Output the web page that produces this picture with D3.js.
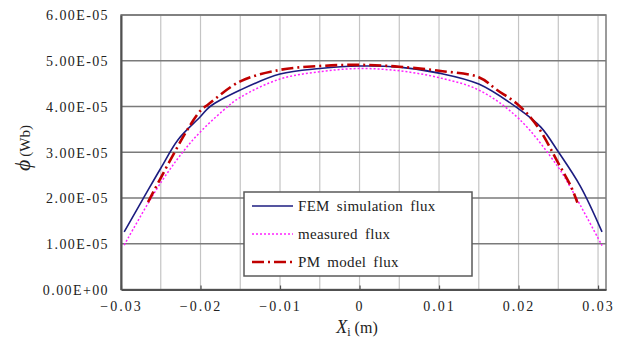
<!DOCTYPE html>
<html>
<head>
<meta charset="utf-8">
<script src="https://cdn.jsdelivr.net/npm/d3@7"></script>
<style>
	body { margin: 0; background: #fff; }
	text { font-family: "Liberation Serif", "DejaVu Serif", serif; fill: #222; }
</style>
</head>
<body>
<div id="chart"></div>
<script>
//data (x in m, flux in Wb)
var femX = [-0.0296, -0.027, -0.025, -0.0228, -0.02, -0.0188, -0.015, -0.01, -0.005, 0, 0.005, 0.01, 0.015, 0.02, 0.0228, 0.025, 0.0278, 0.0305];
var femY = [1.26e-5, 2.05e-5, 2.65e-5, 3.28e-5, 3.78e-5, 4.00e-5, 4.36e-5, 4.71e-5, 4.83e-5, 4.885e-5, 4.86e-5, 4.73e-5, 4.49e-5, 3.95e-5, 3.55e-5, 3.01e-5, 2.25e-5, 1.26e-5];

var measX = [-0.0296, -0.0249, -0.0209, -0.0171, -0.015, -0.01, -0.005, 0, 0.005, 0.01, 0.015, 0.02, 0.025, 0.0266, 0.0305];
var measY = [0.97e-5, 2.36e-5, 3.28e-5, 3.92e-5, 4.20e-5, 4.60e-5, 4.76e-5, 4.83e-5, 4.78e-5, 4.63e-5, 4.36e-5, 3.74e-5, 2.67e-5, 2.21e-5, 0.96e-5];

var pmX = [-0.0266, -0.0218, -0.02, -0.019, -0.015, -0.01, -0.005, 0, 0.005, 0.01, 0.015, 0.0173, 0.02, 0.0224, 0.025, 0.0266, 0.0274];
var pmY = [1.91e-5, 3.45e-5, 3.91e-5, 4.05e-5, 4.55e-5, 4.80e-5, 4.885e-5, 4.91e-5, 4.87e-5, 4.78e-5, 4.64e-5, 4.36e-5, 4.03e-5, 3.56e-5, 2.76e-5, 2.25e-5, 1.90e-5];

var seriesNames = ["FEM simulation flux", "measured flux", "PM model flux"];

var yTicks = [0, 1e-5, 2e-5, 3e-5, 4e-5, 5e-5, 6e-5];
var yTickLabels = ["0.00E+00", "1.00E-05", "2.00E-05", "3.00E-05", "4.00E-05", "5.00E-05", "6.00E-05"];
var xTicks = [-0.03, -0.02, -0.01, 0, 0.01, 0.02, 0.03];
var xTickLabels = ["\u22120.03", "\u22120.02", "\u22120.01", "0", "0.01", "0.02", "0.03"];
var xGrid = [-0.025, -0.02, -0.015, -0.01, -0.005, 0, 0.005, 0.01, 0.015, 0.02, 0.025, 0.03];

var serif = "'Liberation Serif', 'DejaVu Serif', serif";

//size of svg and plot area
var svgWidth = 629;
var svgHeight = 340;

var margin = {
	top: 15,
	right: 23,
	bottom: 50.5,
	left: 121
};

var width = svgWidth - margin.left - margin.right;
var height = svgHeight - margin.top - margin.bottom;

var svg = d3.select("#chart")
	.append("svg")
	.attr("width", svgWidth)
	.attr("height", svgHeight)
	.attr("font-family", serif);

var chartGroup = svg.append("g")
	.attr("transform", `translate(${margin.left}, ${margin.top})`);

var xScale = d3.scaleLinear()
	.domain([-0.03, 0.031])
	.range([0, width]);

var yScale = d3.scaleLinear()
	.domain([0, 6e-5])
	.range([height, 0]);

//vertical light grid
chartGroup.selectAll(".vgrid")
	.data(xGrid)
	.enter()
	.append("line")
	.attr("x1", d => xScale(d))
	.attr("x2", d => xScale(d))
	.attr("y1", 0)
	.attr("y2", height)
	.attr("stroke", "#c4c4c4")
	.attr("stroke-width", 1.2);

//horizontal grid
chartGroup.selectAll(".hgrid")
	.data(yTicks.slice(1))
	.enter()
	.append("line")
	.attr("x1", 0)
	.attr("x2", width)
	.attr("y1", d => yScale(d))
	.attr("y2", d => yScale(d))
	.attr("stroke", "#7a7a7a")
	.attr("stroke-width", 1.5);

//plot border
chartGroup.append("rect")
	.attr("x", 0)
	.attr("y", 0)
	.attr("width", width)
	.attr("height", height)
	.attr("fill", "none")
	.attr("stroke", "#7a7a7a")
	.attr("stroke-width", 1.5);

//axes
var bottomAxis = d3.axisBottom(xScale)
	.tickValues(xTicks)
	.tickSizeInner(-4)
	.tickSizeOuter(0)
	.tickPadding(12)
	.tickFormat((d, i) => xTickLabels[i]);

var leftAxis = d3.axisLeft(yScale)
	.tickValues(yTicks)
	.tickSize(0)
	.tickPadding(12)
	.tickFormat((d, i) => yTickLabels[i]);

var xAxis = chartGroup.append("g")
	.attr("transform", `translate(0, ${height})`)
	.call(bottomAxis)
	.attr("font-family", serif);

var yAxis = chartGroup.append("g")
	.call(leftAxis)
	.attr("font-family", serif);

xAxis.select(".domain").attr("stroke", "#505050").attr("stroke-width", 2);
yAxis.select(".domain").attr("stroke", "#505050").attr("stroke-width", 2);
xAxis.selectAll(".tick line").attr("stroke", "#505050").attr("stroke-width", 1.2);

xAxis.selectAll("text")
	.style("font-size", "14px")
	.style("letter-spacing", "2px")
	.attr("fill", "#222");

yAxis.selectAll("text")
	.style("font-size", "14px")
	.style("letter-spacing", "1.4px")
	.attr("dy", "0.35em")
	.attr("fill", "#222");

//lines
var lineGen = d3.line()
	.x(d => xScale(d[0]))
	.y(d => yScale(d[1]))
	.curve(d3.curveCatmullRom.alpha(0.5));

var femData = femX.map((d, i) => [d, femY[i]]);
var measData = measX.map((d, i) => [d, measY[i]]);
var pmData = pmX.map((d, i) => [d, pmY[i]]);

var styles = [
	{color: "#1c1c80", width: 1.6, dash: null},
	{color: "#ff22ff", width: 1.5, dash: "2,2"},
	{color: "#c00000", width: 2.6, dash: "12,4,2,4"}
];

[femData, measData, pmData].forEach(function(data, i) {
	chartGroup.append("path")
		.datum(data)
		.attr("d", lineGen)
		.attr("fill", "none")
		.attr("stroke", styles[i].color)
		.attr("stroke-width", styles[i].width)
		.attr("stroke-dasharray", styles[i].dash);
});

//legend
var legend = svg.append("g")
	.attr("transform", "translate(244, 192)");

legend.append("rect")
	.attr("x", 0)
	.attr("y", 0)
	.attr("width", 228)
	.attr("height", 84)
	.attr("fill", "#fff")
	.attr("stroke", "#5a5a5a")
	.attr("stroke-width", 1.5);

seriesNames.forEach(function(name, i) {
	var ly = 14 + i * 28;
	legend.append("line")
		.attr("x1", 8)
		.attr("x2", 49)
		.attr("y1", ly)
		.attr("y2", ly)
		.attr("stroke", styles[i].color)
		.attr("stroke-width", styles[i].width)
		.attr("stroke-dasharray", styles[i].dash);
	legend.append("text")
		.attr("x", 54)
		.attr("y", ly)
		.attr("dy", "0.35em")
		.style("font-size", "15px")
		.style("letter-spacing", "0.3px")
		.style("word-spacing", "3px")
		.text(name);
});

//y axis title
var yTitle = svg.append("text")
	.attr("transform", "translate(30, 148) rotate(-90)")
	.attr("text-anchor", "middle");
yTitle.append("tspan")
	.style("font-size", "22px")
	.style("font-style", "italic")
	.text("\u03d5");
yTitle.append("tspan")
	.style("font-size", "15px")
	.attr("dx", 3)
	.text("(Wb)");

//x axis title
var xTitle = svg.append("text")
	.attr("x", 357)
	.attr("y", 333)
	.attr("text-anchor", "middle");
xTitle.append("tspan")
	.style("font-size", "18px")
	.style("font-style", "italic")
	.text("X");
xTitle.append("tspan")
	.style("font-size", "12px")
	.attr("dy", 3)
	.text("i");
xTitle.append("tspan")
	.style("font-size", "16px")
	.attr("dy", -3)
	.attr("dx", 4)
	.text("(m)");
</script>
</body>
</html>
